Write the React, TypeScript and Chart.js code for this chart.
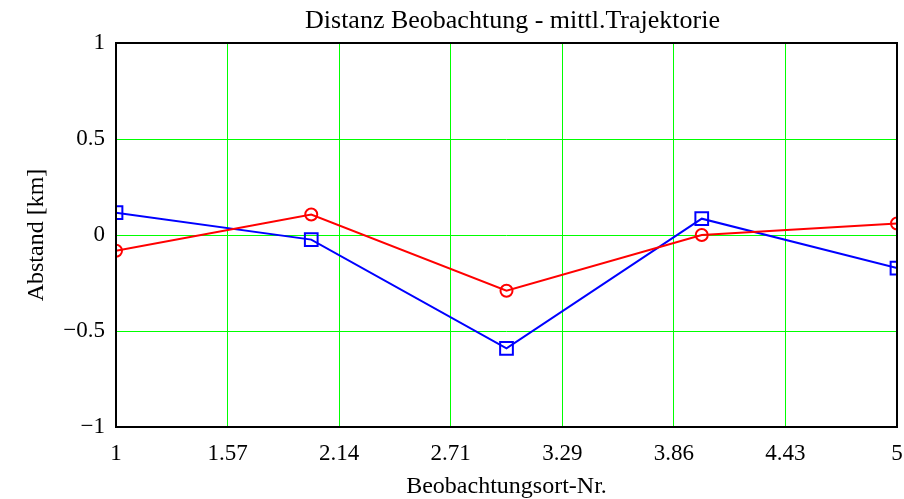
import React, { useEffect, useRef } from "react";
import { Chart, registerables } from "chart.js";

Chart.register(...registerables);

const xValues = [1, 2, 3, 4, 5];
const redValues = [-0.082, 0.107, -0.29, 0.0, 0.06];
const blueValues = [0.116, -0.024, -0.59, 0.085, -0.172];
const xTicks = [1, 1.5714, 2.1429, 2.7143, 3.2857, 3.8571, 4.4286, 5];
const xTickLabels = ["1", "1.57", "2.14", "2.71", "3.29", "3.86", "4.43", "5"];
const yTicks = [-1, -0.5, 0, 0.5, 1];
const yTickLabels = ["\u22121", "\u22120.5", "0", "0.5", "1"];
const titleText = "Distanz Beobachtung - mittl.Trajektorie";

const FONT = "'Liberation Serif', 'Times New Roman', serif";
const GRID = "#00ff00";
const NONE = "rgba(0,0,0,0)";

const framePlugin = {
  id: "frame",
  afterDraw(chart: any) {
    const { ctx, chartArea } = chart;
    ctx.save();
    ctx.strokeStyle = "#000";
    ctx.lineWidth = 2;
    ctx.strokeRect(chartArea.left, chartArea.top, chartArea.right - chartArea.left, chartArea.bottom - chartArea.top);
    ctx.fillStyle = "#000";
    ctx.font = `26px ${FONT}`;
    ctx.textAlign = "center";
    ctx.textBaseline = "middle";
    ctx.fillText(titleText, (chartArea.left + chartArea.right) / 2 + 6, 21);
    ctx.restore();
  },
};

export default function App() {
  const ref = useRef<HTMLCanvasElement | null>(null);
  useEffect(() => {
    if (!ref.current) return;
    const chart = new Chart(ref.current, {
      type: "line",
      data: {
        datasets: [
          {
            data: xValues.map((x, i) => ({ x, y: redValues[i] })),
            borderColor: "#ff0000",
            backgroundColor: NONE,
            borderWidth: 2,
            pointStyle: "circle",
            pointRadius: 6,
            pointBorderWidth: 2,
            pointBorderColor: "#ff0000",
            pointBackgroundColor: NONE,
            clip: 0,
          },
          {
            data: xValues.map((x, i) => ({ x, y: blueValues[i] })),
            borderColor: "#0000ff",
            backgroundColor: NONE,
            borderWidth: 2,
            pointStyle: "rect",
            pointRadius: 9,
            pointBorderWidth: 2,
            pointBorderColor: "#0000ff",
            pointBackgroundColor: NONE,
            clip: 0,
          },
        ],
      },
      options: {
        animation: false,
        responsive: false,
        maintainAspectRatio: false,
        layout: { autoPadding: false, padding: { left: 0, right: 7, top: 43, bottom: 0 } },
        plugins: {
          legend: { display: false },
          tooltip: { enabled: false },
          title: { display: false },
        },
        scales: {
          x: {
            type: "linear",
            min: 1,
            max: 5,
            afterBuildTicks: (s: any) => {
              s.ticks = xTicks.map((v) => ({ value: v }));
            },
            afterFit: (s: any) => {
              s.height = 72;
              s.paddingLeft = 0;
              s.paddingRight = 0;
            },
            ticks: {
              autoSkip: false,
              maxRotation: 0,
              padding: 13,
              color: "#000",
              font: { family: FONT, size: 23 },
              callback: (_v: any, i: number) => xTickLabels[i],
            },
            grid: {
              drawTicks: false,
              color: xTicks.map((_v, i) => (i === 0 || i === xTicks.length - 1 ? NONE : GRID)),
              lineWidth: 1,
            },
            border: { display: false },
            title: {
              display: true,
              text: "Beobachtungsort-Nr.",
              color: "#000",
              font: { family: FONT, size: 24 },
              padding: { top: 0, bottom: -2 },
            },
          },
          y: {
            type: "linear",
            min: -1,
            max: 1,
            afterBuildTicks: (s: any) => {
              s.ticks = yTicks.map((v) => ({ value: v }));
            },
            afterFit: (s: any) => {
              s.width = 116;
              s.paddingTop = 0;
              s.paddingBottom = 0;
            },
            ticks: {
              padding: 11,
              color: "#000",
              font: { family: FONT, size: 23 },
              callback: (_v: any, i: number) => yTickLabels[i],
            },
            grid: {
              drawTicks: false,
              color: yTicks.map((_v, i) => (i === 0 || i === yTicks.length - 1 ? NONE : GRID)),
              lineWidth: 1,
            },
            border: { display: false },
            title: {
              display: true,
              text: "Abstand [km]",
              color: "#000",
              font: { family: FONT, size: 24 },
              padding: { top: 22, bottom: 0 },
            },
          },
        },
      },
      plugins: [framePlugin],
    });
    return () => chart.destroy();
  }, []);
  return (
    <div style={{ position: "fixed", left: 0, top: 0, width: 904, height: 499, background: "#fff" }}>
      <canvas ref={ref} width={904} height={499} style={{ width: 904, height: 499 }} />
    </div>
  );
}
